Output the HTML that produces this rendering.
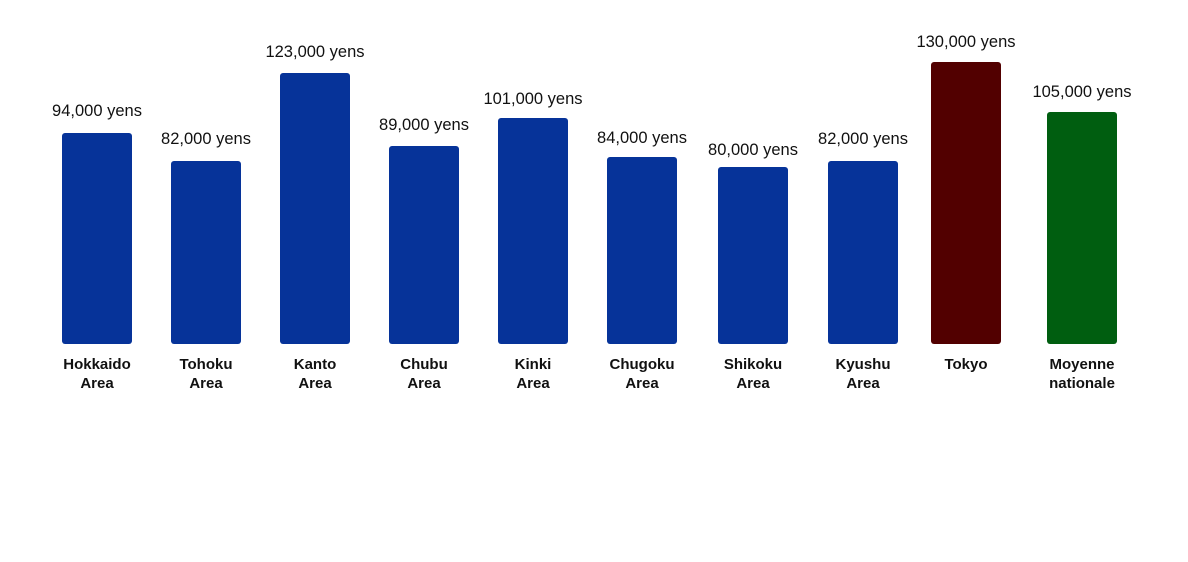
<!DOCTYPE html>
<html><head><meta charset="utf-8"><style>
html,body{margin:0;padding:0;background:#fff;}
svg{display:block;}
text{font-family:"Liberation Sans","DejaVu Sans",sans-serif;text-anchor:middle;fill:#111;}
.v{font-size:16.5px;}
.c{font-size:15px;font-weight:bold;}
</style></head><body>
<svg width="1188" height="562" viewBox="0 0 1188 562" xmlns="http://www.w3.org/2000/svg">
<g>
<rect x="62" y="133" width="70" height="211" rx="3" fill="#063399"/>
<rect x="171" y="161" width="70" height="183" rx="3" fill="#063399"/>
<rect x="280" y="73" width="70" height="271" rx="3" fill="#063399"/>
<rect x="389" y="146" width="70" height="198" rx="3" fill="#063399"/>
<rect x="498" y="118" width="70" height="226" rx="3" fill="#063399"/>
<rect x="607" y="157" width="70" height="187" rx="3" fill="#063399"/>
<rect x="718" y="167" width="70" height="177" rx="3" fill="#063399"/>
<rect x="828" y="161" width="70" height="183" rx="3" fill="#063399"/>
<rect x="931" y="62" width="70" height="282" rx="3" fill="#520000"/>
<rect x="1047" y="112" width="70" height="232" rx="3" fill="#005e10"/>
</g>
<g class="v">
<text class="v" x="97" y="116">94,000 yens</text>
<text class="v" x="206" y="144">82,000 yens</text>
<text class="v" x="315" y="57">123,000 yens</text>
<text class="v" x="424" y="130">89,000 yens</text>
<text class="v" x="533" y="104">101,000 yens</text>
<text class="v" x="642" y="143">84,000 yens</text>
<text class="v" x="753" y="155">80,000 yens</text>
<text class="v" x="863" y="144">82,000 yens</text>
<text class="v" x="966" y="47">130,000 yens</text>
<text class="v" x="1082" y="97">105,000 yens</text>
</g>
<g>
<text class="c" x="97" y="369">Hokkaido</text><text class="c" x="97" y="388">Area</text>
<text class="c" x="206" y="369">Tohoku</text><text class="c" x="206" y="388">Area</text>
<text class="c" x="315" y="369">Kanto</text><text class="c" x="315" y="388">Area</text>
<text class="c" x="424" y="369">Chubu</text><text class="c" x="424" y="388">Area</text>
<text class="c" x="533" y="369">Kinki</text><text class="c" x="533" y="388">Area</text>
<text class="c" x="642" y="369">Chugoku</text><text class="c" x="642" y="388">Area</text>
<text class="c" x="753" y="369">Shikoku</text><text class="c" x="753" y="388">Area</text>
<text class="c" x="863" y="369">Kyushu</text><text class="c" x="863" y="388">Area</text>
<text class="c" x="966" y="369">Tokyo</text>
<text class="c" x="1082" y="369">Moyenne</text><text class="c" x="1082" y="388">nationale</text>
</g>
</svg>
</body></html>
